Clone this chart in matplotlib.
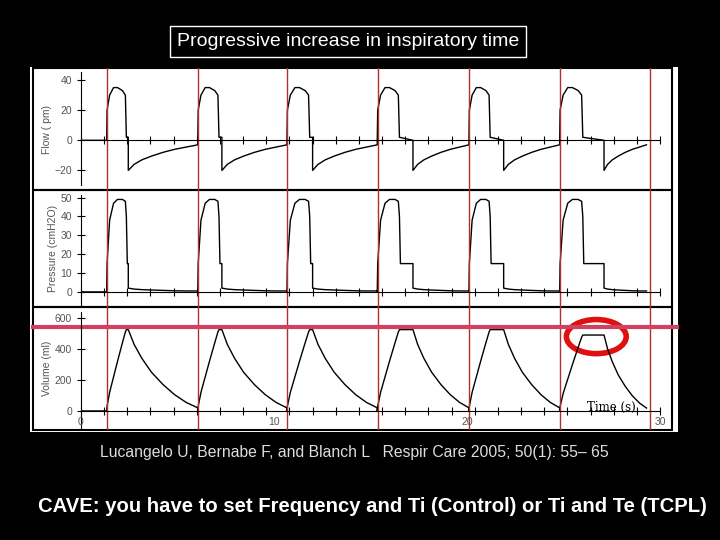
import numpy as np
import matplotlib.pyplot as plt
from matplotlib.patches import Rectangle, Ellipse

plt.rcParams['font.family'] = 'Liberation Sans'

# breath timing (s)
breath_start = [1.33, 6.05, 10.67, 15.35, 20.1, 24.8]
insp_end = [2.35, 7.15, 11.85, 16.5, 21.2, 26.0]
exp_start = [2.45, 7.3, 12.0, 17.2, 21.9, 27.1]
trace_end = 29.3
marker_times = [1.33, 6.05, 10.67, 15.4, 20.1, 24.8, 29.5]
vol_peak = [525, 525, 525, 525, 525, 490]

# inspiratory shapes: relative time (fraction of insp) -> value
insp_frac = [0.0, 0.02, 0.15, 0.35, 0.55, 0.8, 0.95, 1.0]
flow_insp = [0, 20, 30, 35, 35, 33, 30, 2]
pres_insp = [0, 15, 38, 47, 49, 49, 48, 40]
vol_insp = [0, 30, 120, 220, 320, 440, 510, 525]

# expiratory shapes: seconds after expiration start -> value
exp_rel = [0.0, 0.3, 0.7, 1.2, 1.8, 2.4, 3.0, 3.6]
flow_exp = [-20, -16, -13, -10.5, -8, -6, -4.5, -3]
vol_exp = [525, 430, 340, 250, 170, 105, 55, 20]
pres_exp = [2, 1.5, 1.2, 1.0, 0.8, 0.6, 0.5, 0.5]
pause_pressure = 15

def build(kind):
    t, y = [0.0], [0.0]
    for i, (s, e, x) in enumerate(zip(breath_start, insp_end, exp_start)):
        nxt = breath_start[i + 1] if i + 1 < len(breath_start) else trace_end
        ins = dict(flow=flow_insp, pres=pres_insp, vol=vol_insp)[kind]
        ex = dict(flow=flow_exp, pres=pres_exp, vol=vol_exp)[kind]
        if kind == 'vol':
            k = vol_peak[i] / vol_insp[-1]
            ins = [v * k for v in ins]
            ex = [v * k for v in ex]
        t += [s]; y += [y[-1]]
        t += [s + f * (e - s) for f in insp_frac]; y += ins
        if kind == 'flow':
            t += [x]; y += [0 if x - e > 0.2 else ins[-1]]
        elif kind == 'pres':
            t += [e + 0.05, x]; y += [pause_pressure, pause_pressure]
        else:
            t += [x]; y += [ins[-1]]
        span = nxt - x
        for r, v in zip(exp_rel, ex):
            t.append(x + r * span / exp_rel[-1]); y.append(v)
    return t, y

fig = plt.figure(figsize=(7.2, 5.4), dpi=100)
fig.patch.set_facecolor('black')

def fx(px): return px / 720
def fy(py): return 1 - py / 540

bg = fig.add_axes([0, 0, 1, 1], zorder=-1)
bg.set_xlim(0, 720); bg.set_ylim(540, 0); bg.axis('off')
bg.add_patch(Rectangle((30, 67), 648, 365, facecolor='white', edgecolor='none'))

panels = [(68, 190, 'flow', 'Flow ( pm)', (-33, 48), [-20, 0, 20, 40]),
          (190, 307, 'pres', 'Pressure (cmH2O)', (-8, 54), [0, 10, 20, 30, 40, 50]),
          (307, 430, 'vol', 'Volume (ml)', (-123, 671), [0, 200, 400, 600])]
axes = []
for top, bot, kind, lab, ylim, yt in panels:
    bg.add_patch(Rectangle((33, top), 639, bot - top, facecolor='none', edgecolor='black', lw=1.5))
    ax = fig.add_axes([fx(81), fy(bot), fx(579), (bot - top) / 540], zorder=1)
    ax.set_xlim(0, 30); ax.set_ylim(*ylim)
    ax.set_facecolor('none')
    for s in ['top', 'right']:
        ax.spines[s].set_visible(False)
    ax.spines['bottom'].set_position(('data', 0))
    ax.spines['left'].set_bounds(ylim[0] * 0.9, ylim[1] * 0.95)
    ax.set_yticks(yt)
    ax.set_xticks(np.arange(0, 31, 1.2))
    ax.tick_params(direction='inout', length=6, labelsize=7.5, colors='black', labelcolor='#555555')
    ax.set_xticklabels([])
    ax.set_ylabel(lab, fontsize=7.5, color='#555555', labelpad=2)
    t, y = build(kind)
    ax.plot(t, y, color='black', lw=1)
    for m in marker_times:
        ax.axvline(m, color='#b03030', lw=1)
    axes.append(ax)

axv = axes[2]
for tx, lab in [(0, '0'), (10, '10'), (20, '20'), (30, '30')]:
    axv.text(tx, -40, lab, ha='center', va='top', fontsize=7.5, color='#555555')
axv.text(26.2, -20, 'Time (s)', fontsize=8.5, family='DejaVu Serif', va='bottom')
axv.plot([-2.5, 30.9], [540, 540], color='#d04060', lw=3, clip_on=False)
axv.add_patch(Ellipse((26.7, 480), 3.1, 220, facecolor='none', edgecolor='#e01010', lw=4))

fig.text(fx(348), fy(42), 'Progressive increase in inspiratory time', color='white', fontsize=14,
         ha='center', va='center', bbox=dict(facecolor='black', edgecolor='white', pad=5))
fig.text(fx(100), fy(453), 'Lucangelo U, Bernabe F, and Blanch L   Respir Care 2005; 50(1): 55– 65',
         color='#dddddd', fontsize=11.3, va='center')
fig.text(fx(38), fy(507), 'CAVE: you have to set Frequency and Ti (Control) or Ti and Te (TCPL)',
         color='white', fontsize=14.6, fontweight='bold', va='center')
fig.savefig('out.png', dpi=100, facecolor='black')
